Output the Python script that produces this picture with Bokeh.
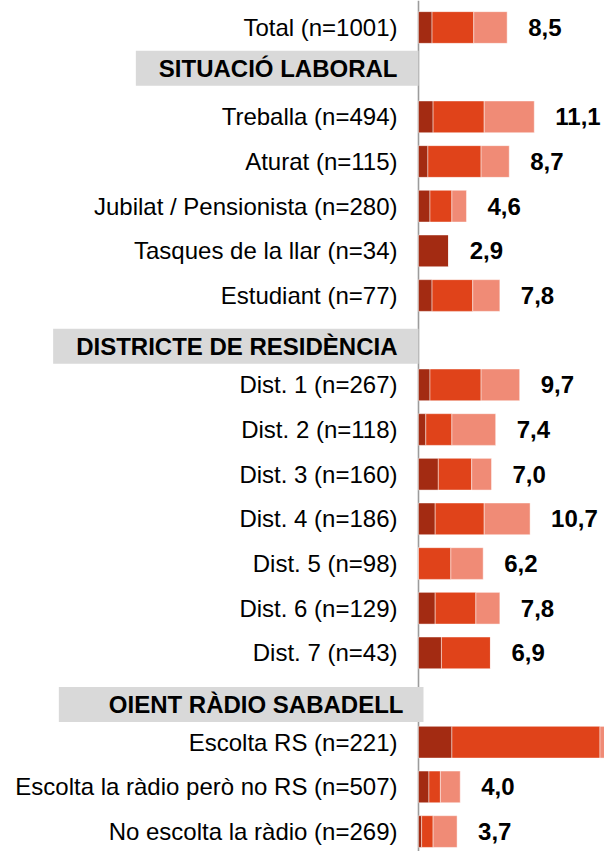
from bokeh.plotting import figure
from bokeh.models import ColumnDataSource, Range1d, Span
from bokeh.core.properties import value
from bokeh.embed import file_html
from bokeh.resources import INLINE

# ---------------- data ----------------
categories = [
    "Total (n=1001)",
    "Treballa (n=494)", "Aturat (n=115)", "Jubilat / Pensionista (n=280)",
    "Tasques de la llar (n=34)", "Estudiant (n=77)",
    "Dist. 1 (n=267)", "Dist. 2 (n=118)", "Dist. 3 (n=160)", "Dist. 4 (n=186)",
    "Dist. 5 (n=98)", "Dist. 6 (n=129)", "Dist. 7 (n=43)",
    "Escolta RS (n=221)", "Escolta la ràdio però no RS (n=507)",
    "No escolta la ràdio (n=269)",
]
groups = [None, 0, 0, 0, 0, 0, 1, 1, 1, 1, 1, 1, 1, 2, 2, 2]
headers = ["SITUACIÓ LABORAL", "DISTRICTE DE RESIDÈNCIA", "OIENT RÀDIO SABADELL"]

dark = [1.3, 1.4, 0.9, 1.1, 2.9, 1.3, 1.1, 0.7, 1.9, 1.6, 0.0, 1.6, 2.2, 3.2, 1.0, 0.3]
mid = [4.0, 4.9, 5.1, 2.1, 0.0, 3.9, 4.9, 2.5, 3.2, 4.7, 3.1, 3.9, 4.7, 14.2, 1.1, 1.1]
light = [3.2, 4.8, 2.7, 1.4, 0.0, 2.6, 3.7, 4.2, 1.9, 4.4, 3.1, 2.3, 0.0, 1.5, 1.9, 2.3]
totals = [8.5, 11.1, 8.7, 4.6, 2.9, 7.8, 9.7, 7.4, 7.0, 10.7, 6.2, 7.8, 6.9, 18.9, 4.0, 3.7]

# ---------------- layout / style ----------------
COLORS = ["#A32B12", "#E0431A", "#F08B76"]
FONT = "Liberation Sans"
FS = "24px"
W, H = 604, 851
PX_PER_UNIT = 10.43
ORIGIN_PX = 418
ROW_PX = 44.67
FIRST_ROW_PX = 27

# header box styles: (x_offset, y_offset, pad_left, pad_right)
HEADER_STYLE = [(0, -4, 23, 21), (0, 6, 23, 21), (5, 7, 50, 20)]

rows, hdr_rows = [], []
r, prev = 0, None
for g in groups:
    if g is not None and g != prev:
        hdr_rows.append(r)
        r += 1
    rows.append(r)
    r += 1
    prev = g

x_start = -ORIGIN_PX / PX_PER_UNIT
x_end = (W - ORIGIN_PX) / PX_PER_UNIT
y_top = -FIRST_ROW_PX / ROW_PX
y_bot = (H - FIRST_ROW_PX) / ROW_PX

p = figure(width=W, height=H,
           x_range=Range1d(x_start, x_end), y_range=Range1d(y_bot, y_top),
           output_backend="svg", toolbar_location=None,
           x_axis_location=None, y_axis_location=None,
           min_border=0, outline_line_color=None)
p.grid.visible = False
p.background_fill_color = "white"

p.add_layout(Span(location=0, dimension="height", line_color="#9c9c9c",
                  line_width=1.6, level="underlay"))

src = ColumnDataSource(dict(row=rows, dark=dark, mid=mid, light=light,
                            label=categories))
p.hbar_stack(["dark", "mid", "light"], y="row", height=0.71, color=COLORS,
             source=src, line_color="white", line_alpha=0.45, line_width=1)

p.text(x=0, y="row", text="label", source=src, x_offset=-21,
       text_align="right", text_baseline="middle",
       text_font=value(FONT), text_font_size=FS, text_color="black")

vis = [i for i, t in enumerate(totals) if t + 1.5 < x_end]
vsrc = ColumnDataSource(dict(
    x=[totals[i] for i in vis],
    row=[rows[i] for i in vis],
    txt=[f"{totals[i]:.1f}".replace(".", ",") for i in vis],
))
p.text(x="x", y="row", text="txt", source=vsrc, x_offset=21,
       text_align="left", text_baseline="middle",
       text_font=value(FONT), text_font_size=FS, text_font_style="bold",
       text_color="black")

for hname, hrow, (xo, yo, pl, pr) in zip(headers, hdr_rows, HEADER_STYLE):
    p.text(x=[0], y=[hrow], text=[hname], x_offset=xo, y_offset=yo,
           text_align="right", text_baseline="middle",
           text_font=value(FONT), text_font_size=FS, text_font_style="bold",
           text_color="black", background_fill_color="#D9D9D9",
           padding=dict(left=pl, right=pr, top=4, bottom=4))

open("out.html", "w").write(file_html(p, INLINE))
